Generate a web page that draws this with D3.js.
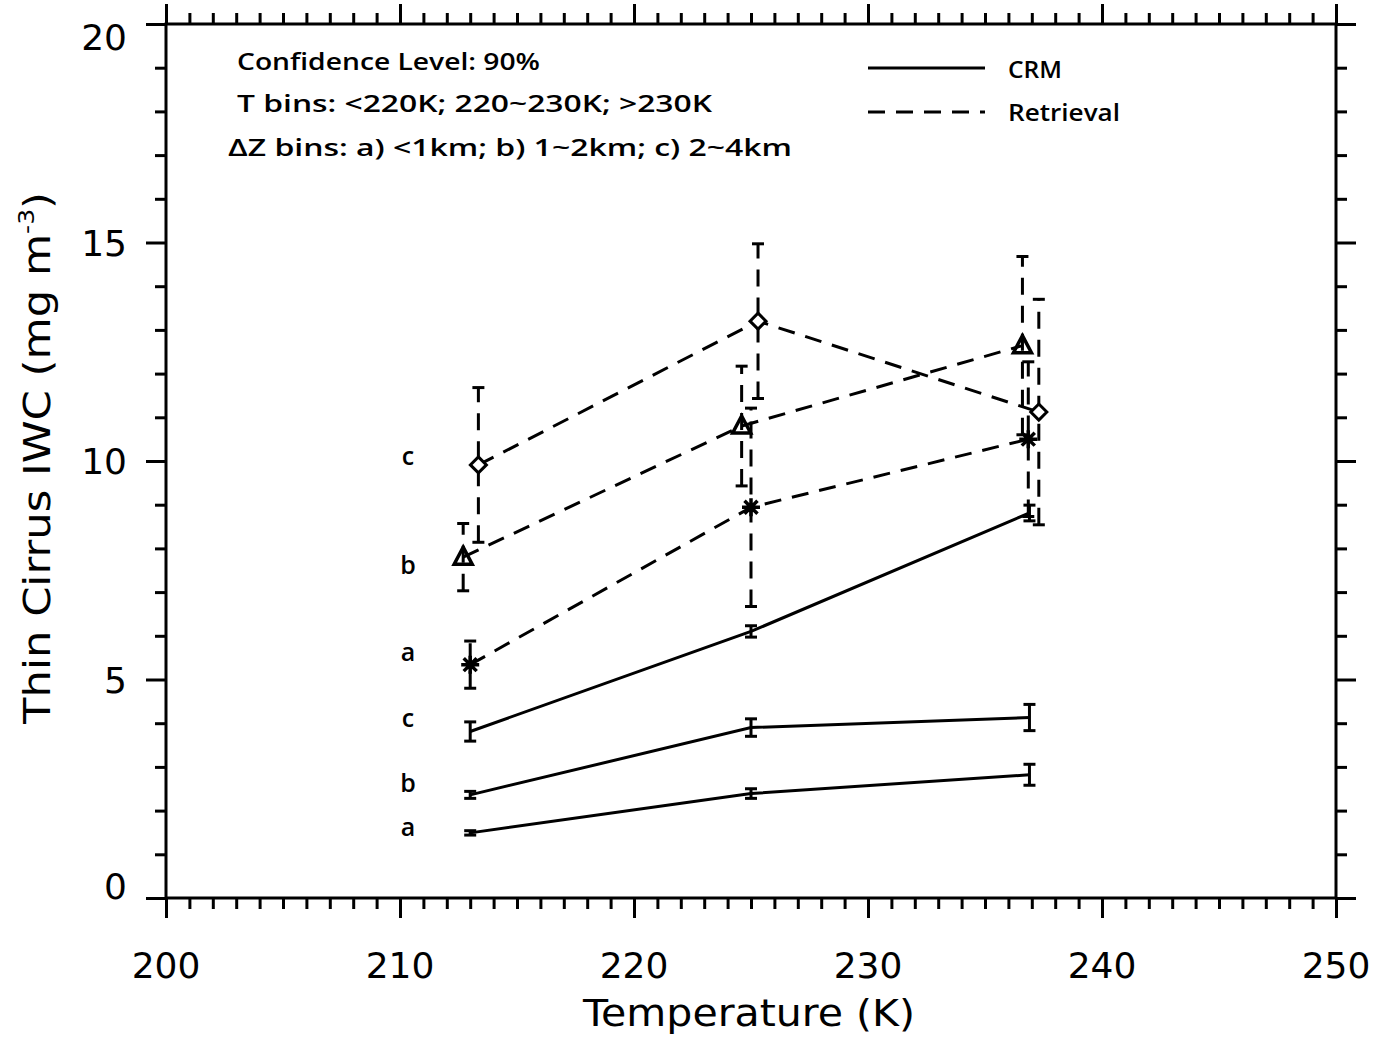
<!DOCTYPE html>
<html>
<head>
<meta charset="utf-8">
<script src="https://cdn.jsdelivr.net/npm/d3@7.9.0/dist/d3.min.js"></script>
<style>
  body { margin: 0; background: #fff; }
  svg { display: block; }
  text { font-family: "DejaVu Sans", sans-serif; fill: #000; }
  .note { font-family: "Open Sans", "DejaVu Sans", sans-serif; font-weight: 600; }
</style>
</head>
<body>
<svg id="chart" width="1375" height="1037"></svg>
<script>
// temperatures of each point (K)
const crmTemps = [213.0, 225.0, 236.9];
const retTempsA = [213.0, 225.0, 236.85];
const retTempsB = [212.7, 224.6, 236.6];
const retTempsC = [213.35, 225.3, 237.3];

// CRM values and 90% error half-widths (mg m-3)
const crmA = [1.49, 2.39, 2.82];
const crmAErr = [0.05, 0.11, 0.24];
const crmB = [2.36, 3.90, 4.13];
const crmBErr = [0.08, 0.20, 0.30];
const crmC = [3.81, 6.10, 8.81];
const crmCErr = [0.22, 0.13, 0.18];

// Retrieval values and errors
const retA = [5.34, 8.94, 10.50];
const retAErr = [0.54, 2.27, 1.77];
const retB = [7.80, 10.80, 12.64];
const retBErr = [0.77, 1.37, 2.04];
const retC = [9.91, 13.20, 11.12];
const retCErr = [1.77, 1.77, 2.58];

// side labels a/b/c (y value where they sit)
const sideLabels = ['c', 'b', 'a', 'c', 'b', 'a'];
const sideLabelY = [10.1, 7.6, 5.6, 4.1, 2.6, 1.6];

const xTicks = [200, 210, 220, 230, 240, 250];
const yTicks = [0, 5, 10, 15, 20];

const notes = ['Confidence Level: 90%', 'T bins: <220K; 220~230K; >230K', 'ΔZ bins: a) <1km; b) 1~2km; c) 2~4km'];

const svg = d3.select('#chart');
const mLeft = 166, mRight = 1336, mTop = 24, mBottom = 898;

const x = d3.scaleLinear().domain([200, 250]).range([mLeft, mRight]);
const y = d3.scaleLinear().domain([0, 20]).range([mBottom, mTop]);

const dash = '17,11';

// axes: major + minor ticks, all pointing outward
function drawAxis(axisFn, scale, transform, minorStep, majorList) {
  const minor = d3.range(scale.domain()[0], scale.domain()[1] + 0.001, minorStep)
    .filter(v => !majorList.includes(v));
  svg.append('g').attr('transform', transform)
    .call(axisFn(scale).tickValues(minor).tickSize(11).tickFormat(''))
    .call(g => g.select('.domain').remove());
  svg.append('g').attr('transform', transform)
    .call(axisFn(scale).tickValues(majorList).tickSize(20).tickSizeOuter(0).tickFormat(''))
    .call(g => g.select('.domain').remove());
}
drawAxis(d3.axisBottom, x, `translate(0,${mBottom})`, 1, xTicks);
drawAxis(d3.axisTop, x, `translate(0,${mTop})`, 1, xTicks);
drawAxis(d3.axisLeft, y, `translate(${mLeft},0)`, 1, yTicks);
drawAxis(d3.axisRight, y, `translate(${mRight},0)`, 1, yTicks);
svg.selectAll('.tick line').attr('stroke', '#000').attr('stroke-width', 3);

// frame
svg.append('rect')
  .attr('x', mLeft).attr('y', mTop)
  .attr('width', mRight - mLeft).attr('height', mBottom - mTop)
  .attr('fill', 'none').attr('stroke', '#000').attr('stroke-width', 3);

// tick labels
svg.selectAll('.xlab').data(xTicks).join('text')
  .attr('x', d => x(d)).attr('y', 978)
  .attr('text-anchor', 'middle').attr('font-size', 36)
  .text(d => d);
svg.selectAll('.ylab').data(yTicks).join('text')
  .attr('x', 127).attr('y', d => y(d) + 13 + (d === 0 ? -12 : d === 20 ? 13 : 0))
  .attr('text-anchor', 'end').attr('font-size', 36)
  .text(d => d);

// axis titles
svg.append('text')
  .attr('x', 749).attr('y', 1026)
  .attr('text-anchor', 'middle').attr('font-size', 38)
  .attr('textLength', 332).attr('lengthAdjust', 'spacingAndGlyphs')
  .text('Temperature (K)');
const yt = svg.append('text')
  .attr('transform', 'translate(50,458) rotate(-90)')
  .attr('text-anchor', 'middle').attr('font-size', 38)
  .attr('textLength', 532).attr('lengthAdjust', 'spacingAndGlyphs');
yt.append('tspan').text('Thin Cirrus IWC (mg m');
yt.append('tspan').attr('font-size', 22).attr('dy', -16).text('-3');
yt.append('tspan').attr('dy', 16).text(')');

// notes
const noteX = [237, 237, 228];
const noteY = [70, 112, 156];
const noteW = [303, 475, 564];
svg.selectAll('.note').data(notes).join('text')
  .attr('class', 'note')
  .attr('x', (d, i) => noteX[i]).attr('y', (d, i) => noteY[i])
  .attr('font-size', 23)
  .attr('textLength', (d, i) => noteW[i]).attr('lengthAdjust', 'spacingAndGlyphs')
  .text(d => d);

// legend
svg.append('line').attr('x1', 868).attr('x2', 985).attr('y1', 68).attr('y2', 68)
  .attr('stroke', '#000').attr('stroke-width', 3);
svg.append('line').attr('x1', 868).attr('x2', 985).attr('y1', 112).attr('y2', 112)
  .attr('stroke', '#000').attr('stroke-width', 3).attr('stroke-dasharray', dash);
svg.append('text').attr('class', 'note').attr('x', 1008).attr('y', 78).attr('font-size', 23)
  .attr('textLength', 54).attr('lengthAdjust', 'spacingAndGlyphs').text('CRM');
svg.append('text').attr('class', 'note').attr('x', 1008).attr('y', 121).attr('font-size', 23)
  .attr('textLength', 112).attr('lengthAdjust', 'spacingAndGlyphs').text('Retrieval');

// side labels
svg.selectAll('.side').data(sideLabels).join('text')
  .attr('class', 'note')
  .attr('x', 408).attr('y', (d, i) => y(sideLabelY[i]) + 8)
  .attr('text-anchor', 'middle').attr('font-size', 25)
  .text(d => d);

const line = d3.line().x(d => x(d.t)).y(d => y(d.v));

function series(temps, vals, errs, dashed, marker) {
  const pts = temps.map((t, i) => ({ t, v: vals[i], e: errs[i] }));
  const g = svg.append('g').attr('stroke', '#000').attr('stroke-width', 3).attr('fill', 'none');
  // error bars
  pts.forEach(p => {
    g.append('line').attr('x1', x(p.t)).attr('x2', x(p.t))
      .attr('y1', y(p.v - p.e)).attr('y2', y(p.v + p.e))
      .attr('stroke-dasharray', dashed ? dash : null);
    [p.v - p.e, p.v + p.e].forEach(v => {
      g.append('line').attr('x1', x(p.t) - 6).attr('x2', x(p.t) + 6)
        .attr('y1', y(v)).attr('y2', y(v));
    });
  });
  g.append('path').attr('d', line(pts)).attr('stroke-dasharray', dashed ? dash : null);
  // markers
  pts.forEach(p => {
    const cx = x(p.t), cy = y(p.v);
    if (marker === 'diamond') {
      g.append('path').attr('d', `M${cx},${cy - 8}L${cx + 8},${cy}L${cx},${cy + 8}L${cx - 8},${cy}Z`)
        .attr('fill', '#fff');
    } else if (marker === 'triangle') {
      g.append('path').attr('d', `M${cx},${cy - 10}L${cx + 9},${cy + 7}L${cx - 9},${cy + 7}Z`)
        .attr('stroke-width', 3.5);
    } else if (marker === 'asterisk') {
      const r = 9, s = r * 0.72;
      g.append('path').attr('stroke-width', 3.5).attr('d',
        `M${cx},${cy - r}V${cy + r}M${cx - r},${cy}H${cx + r}` +
        `M${cx - s},${cy - s}L${cx + s},${cy + s}M${cx - s},${cy + s}L${cx + s},${cy - s}`);
    }
  });
}

series(crmTemps, crmA, crmAErr, false, null);
series(crmTemps, crmB, crmBErr, false, null);
series(crmTemps, crmC, crmCErr, false, null);
series(retTempsA, retA, retAErr, true, 'asterisk');
series(retTempsB, retB, retBErr, true, 'triangle');
series(retTempsC, retC, retCErr, true, 'diamond');
</script>
</body>
</html>
